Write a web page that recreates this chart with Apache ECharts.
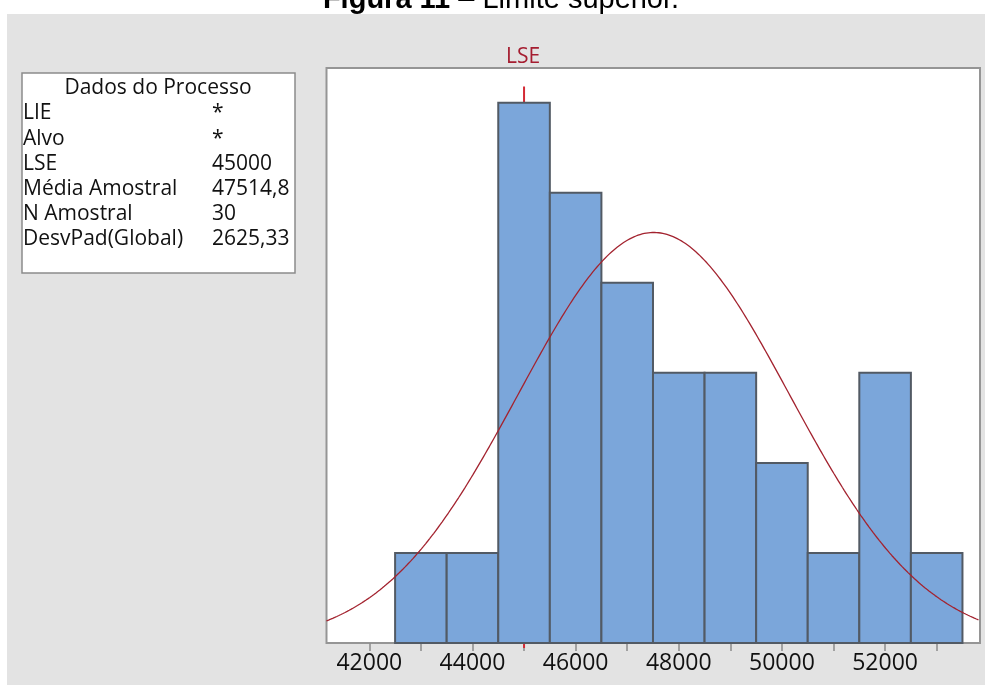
<!DOCTYPE html>
<html>
<head>
<meta charset="utf-8">
<title>Limite superior</title>
<script src="https://cdn.jsdelivr.net/npm/echarts@6/dist/echarts.min.js"></script>
<style>
  html, body { margin: 0; padding: 0; background: #ffffff; }
  #wrap { position: relative; width: 985px; height: 685px; overflow: hidden; }
  #panel { position: absolute; left: 7px; top: 14px; width: 978px; height: 671px; background: #e3e3e3; }
  #chart { position: absolute; left: 0; top: 0; width: 985px; height: 685px; }
</style>
</head>
<body>
<div id="wrap">
  <div id="panel"></div>
  <div id="chart"></div>
</div>
<script>
// Histogram bins (lower / upper edge) and their counts
var binLower = [42500, 43500, 44500, 45500, 46500, 47500, 48500, 49500, 50500, 51500, 52500];
var binUpper = [43500, 44500, 45500, 46500, 47500, 48500, 49500, 50500, 51500, 52500, 53500];
var binCounts = [1, 1, 6, 5, 4, 3, 3, 2, 1, 3, 1];

// Process summary
var infoLabels = ['LIE', 'Alvo', 'LSE', 'Média Amostral', 'N Amostral', 'DesvPad(Global)'];
var infoValues = ['*', '*', '45000', '47514,8', '30', '2625,33'];
var specUpper = 45000;
var processMean = 47514.8;
var processSd = 2625.33;
var sampleN = 30;
var binWidth = 1000;

// Axis ticks and labels
var tickValues = [42000, 43000, 44000, 45000, 46000, 47000, 48000, 49000, 50000, 51000, 52000, 53000];
var labelValues = [42000, 44000, 46000, 48000, 50000, 52000];

var xMin = 41170, xMax = 53840, yMax = 6.385;

// Fitted normal curve, scaled to the histogram counts
var curve = [];
for (var x = xMin; x <= xMax; x += 40) {
  var z = (x - processMean) / processSd;
  var dens = Math.exp(-0.5 * z * z) / (processSd * Math.sqrt(2 * Math.PI));
  curve.push([x, dens * sampleN * binWidth]);
}
var bars = binLower.map(function (lo, i) { return [lo, binUpper[i], binCounts[i]]; });

var chart = echarts.init(document.getElementById('chart'));

var infoFont = '"Open Sans", "Noto Sans", sans-serif';
var graphics = [
  { type: 'text', z: 5, x: 501, y: 0, style: {
      text: '{b|Figura 11}{r| – Limite superior.}',
      align: 'center', verticalAlign: 'middle',
      rich: {
        b: { fontFamily: '"Liberation Sans", Arial, sans-serif', fontWeight: 'bold', fontSize: 29, fill: '#000' },
        r: { fontFamily: '"Liberation Sans", Arial, sans-serif', fontSize: 29, fill: '#000' }
      }
  } },
  { type: 'rect', z: 5, shape: { x: 22, y: 73, width: 273, height: 200 }, style: { fill: '#ffffff', stroke: '#8c8c8c', lineWidth: 1.5 } },
  { type: 'text', z: 6, x: 158, y: 88, style: { text: 'Dados do Processo', align: 'center', verticalAlign: 'middle', font: '21px ' + infoFont, fill: '#111' } }
];
infoLabels.forEach(function (lab, i) {
  var yb = 113.5 + 25.2 * i;
  graphics.push({ type: 'text', z: 6, x: 23, y: yb, style: { text: lab, align: 'left', verticalAlign: 'middle', font: '21px ' + infoFont, fill: '#111' } });
  graphics.push({ type: 'text', z: 6, x: 212, y: yb, style: { text: infoValues[i], align: 'left', verticalAlign: 'middle', font: '21px ' + infoFont, fill: '#111' } });
});

chart.setOption({
  animation: false,
  backgroundColor: 'transparent',
  graphic: graphics,
  grid: {
    left: 326.5, right: 5, top: 68, bottom: 42,
    show: true, backgroundColor: '#ffffff', borderColor: '#959595', borderWidth: 2
  },
  xAxis: {
    type: 'value', min: xMin, max: xMax,
    axisLine: { show: false },
    splitLine: { show: false },
    axisTick: { show: true, length: 8, customValues: tickValues, lineStyle: { color: '#8c8c8c', width: 1.5 } },
    axisLabel: {
      customValues: labelValues, margin: 9,
      formatter: function (v) { return String(v); },
      fontFamily: '"Open Sans", "Noto Sans", sans-serif', fontSize: 23, color: '#111'
    }
  },
  yAxis: {
    type: 'value', min: 0, max: yMax, show: false, splitLine: { show: false }
  },
  series: [
    {
      type: 'custom', z: 1, clip: false, silent: true,
      data: [[specUpper, 6.18]],
      renderItem: function (params, api) {
        var base = api.coord([api.value(0), 0]);
        var top = api.coord([api.value(0), api.value(1)]);
        var frameTop = api.coord([api.value(0), yMax]);
        return {
          type: 'group',
          children: [
            { type: 'line', shape: { x1: base[0], y1: base[1], x2: top[0], y2: top[1] }, style: { stroke: '#d42a35', lineWidth: 2 } },
            { type: 'line', shape: { x1: base[0], y1: base[1], x2: base[0], y2: base[1] + 5 }, style: { stroke: '#d42a35', lineWidth: 2 } },
            { type: 'text', x: frameTop[0] - 1, y: frameTop[1] - 11, style: {
                text: 'LSE', align: 'center', verticalAlign: 'middle',
                font: '21px "Open Sans", "Noto Sans", sans-serif', fill: '#a51d30' } }
          ]
        };
      }
    },
    {
      type: 'custom', z: 2, silent: true,
      data: bars,
      renderItem: function (params, api) {
        var p0 = api.coord([api.value(0), 0]);
        var p1 = api.coord([api.value(1), api.value(2)]);
        return {
          type: 'rect',
          shape: { x: p0[0], y: p1[1], width: p1[0] - p0[0], height: p0[1] - p1[1] },
          style: { fill: '#7ba6da', stroke: '#525a64', lineWidth: 2 }
        };
      }
    },
    {
      type: 'line', z: 3, silent: true, showSymbol: false, symbol: 'none',
      data: curve,
      lineStyle: { color: '#a3232f', width: 1.3 }
    }
  ]
});
</script>
</body>
</html>
